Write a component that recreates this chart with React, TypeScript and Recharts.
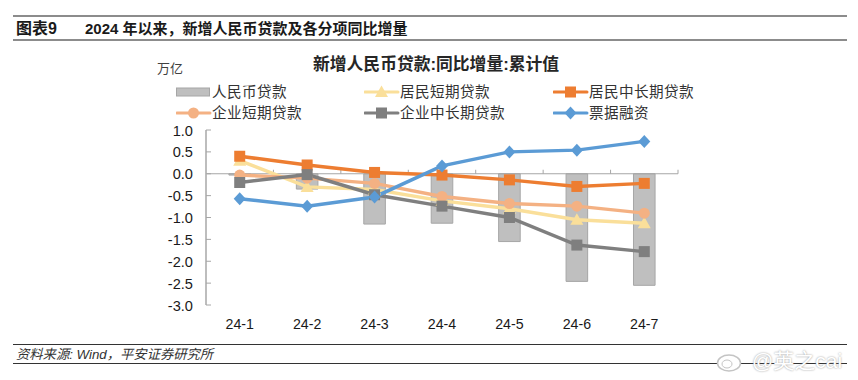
import { Bar, ComposedChart, Legend, Line, ReferenceLine, XAxis, YAxis } from 'recharts'

const months = ['24-1', '24-2', '24-3', '24-4', '24-5', '24-6', '24-7']
const totalLoans = [-0.03, -0.35, -1.15, -1.13, -1.55, -2.46, -2.55]
const householdShort = [0.3, -0.3, -0.36, -0.62, -0.8, -1.05, -1.13]
const householdLong = [0.4, 0.2, 0.03, -0.03, -0.14, -0.29, -0.22]
const corporateShort = [-0.03, -0.1, -0.22, -0.52, -0.68, -0.74, -0.9]
const corporateLong = [-0.2, -0.02, -0.48, -0.74, -1.0, -1.63, -1.78]
const billFinancing = [-0.57, -0.74, -0.53, 0.18, 0.5, 0.54, 0.74]
const yTicks = [1, 0.5, 0, -0.5, -1, -1.5, -2, -2.5, -3]

const rows = months.map((month, i) => ({
  month,
  totalLoans: totalLoans[i],
  householdShort: householdShort[i],
  householdLong: householdLong[i],
  corporateShort: corporateShort[i],
  corporateLong: corporateLong[i],
  billFinancing: billFinancing[i],
}))

const FONT = '"Liberation Sans", "Noto Sans CJK SC", sans-serif'
const TEXT = '#1a1a1a'

function Marker({ kind, cx, cy, fill }: { kind: string; cx: number; cy: number; fill: string }) {
  if (kind === 'square') return <rect x={cx - 5.5} y={cy - 5.5} width={11} height={11} fill={fill} />
  if (kind === 'circle') return <circle cx={cx} cy={cy} r={5.5} fill={fill} />
  if (kind === 'diamond') return <path d={`M${cx} ${cy - 6.5}L${cx + 6} ${cy}L${cx} ${cy + 6.5}L${cx - 6} ${cy}Z`} fill={fill} />
  return <path d={`M${cx} ${cy - 6.5}L${cx + 6.5} ${cy + 5}L${cx - 6.5} ${cy + 5}Z`} fill={fill} />
}

const series = [
  { key: 'householdShort', name: '居民短期贷款', color: '#fadf9a', kind: 'triangle' },
  { key: 'householdLong', name: '居民中长期贷款', color: '#ed7d31', kind: 'square' },
  { key: 'corporateShort', name: '企业短期贷款', color: '#f4b183', kind: 'circle' },
  { key: 'corporateLong', name: '企业中长期贷款', color: '#7f7f7f', kind: 'square' },
  { key: 'billFinancing', name: '票据融资', color: '#5b9bd5', kind: 'diamond' },
]

const legendSlots = [
  { x: 176, y: 92 },
  { x: 364, y: 92 },
  { x: 553, y: 92 },
  { x: 176, y: 113 },
  { x: 364, y: 113 },
  { x: 553, y: 113 },
]

function renderLegend({ payload }: any) {
  return (
    <div style={{ position: 'relative', width: 0, height: 0 }}>
      {(payload ?? []).map((item: any, i: number) => {
        const slot = legendSlots[i]
        const s = series.find((d) => d.name === item.value)
        return (
          <div key={item.value} style={{ position: 'absolute', left: slot.x, top: slot.y - 12, height: 24, whiteSpace: 'nowrap' }}>
            <svg width={36} height={24} style={{ position: 'absolute', left: 0, top: 0 }}>
              {s ? (
                <g>
                  <line x1={1} x2={34} y1={12} y2={12} stroke={s.color} strokeWidth={3} strokeLinecap="round" />
                  <Marker kind={s.kind} cx={17.5} cy={12} fill={s.color} />
                </g>
              ) : (
                <rect x={0.5} y={8} width={33} height={8} fill="#bfbfbf" stroke="#a6a6a6" />
              )}
            </svg>
            <span style={{ position: 'absolute', left: 36, top: 0, lineHeight: '24px', fontSize: 14.6, letterSpacing: 0.4, color: '#333' }}>
              {item.value}
            </span>
          </div>
        )
      })}
    </div>
  )
}

// tick marks sit inside the plot, to the right of the axis line
function YTick({ x, y, payload }: any) {
  return (
    <g>
      <line x1={x + 8} x2={x + 13} y1={y} y2={y} stroke="#a6a6a6" />
      <text x={x - 5} y={y + 5.5} textAnchor="end" fontSize={14.6} fill={TEXT} fontFamily={FONT}>
        {payload.value.toFixed(1)}
      </text>
    </g>
  )
}

// zero line doubles as the category axis, with ticks between the months pointing up
function ZeroAxis({ x1, x2, y1 }: any) {
  const step = (x2 - x1) / months.length
  return (
    <g>
      <line x1={x1} x2={x2} y1={y1} y2={y1} stroke="#a6a6a6" />
      {[...months, ''].map((_m, i) => (
        <line key={i} x1={x1 + step * i} x2={x1 + step * i} y1={y1 - 4} y2={y1} stroke="#a6a6a6" />
      ))}
    </g>
  )
}

const rule = (top: number, color: string, height = 1) => (
  <div style={{ position: 'absolute', left: 13, width: 834, top, height, background: color }} />
)

const label = (left: number, top: number, size: number, text: string, extra = {}) => (
  <div style={{ position: 'absolute', left, top, fontSize: size, lineHeight: `${size + 4}px`, whiteSpace: 'nowrap', color: TEXT, ...extra }}>
    {text}
  </div>
)

export default function App() {
  return (
    <div style={{ position: 'absolute', left: 0, top: 0, width: 858, height: 380, background: '#fff', fontFamily: FONT, overflow: 'hidden' }}>
      {rule(15, '#8c8c8c', 2)}
      {rule(39, '#8c8c8c', 2)}
      {rule(344, '#333')}
      {rule(363, '#333')}
      {label(16, 19, 16, '图表9', { fontWeight: 700 })}
      {label(85, 19, 15, '2024 年以来，新增人民币贷款及各分项同比增量', { fontWeight: 700 })}
      {label(313, 55, 16.8, '新增人民币贷款:同比增量:累计值', { fontWeight: 700, color: '#262626' })}
      {label(157, 60, 13, '万亿', { color: '#404040' })}
      {label(16, 346, 13.3, '资料来源: Wind，平安证券研究所', { fontStyle: 'italic', color: '#333' })}
      <div style={{ position: 'absolute', left: 0, top: 0 }}>
        <ComposedChart width={858} height={380} data={rows} margin={{ top: 130, right: 180, bottom: 40, left: 150 }} barCategoryGap="66%">
          <XAxis
            dataKey="month"
            interval={0}
            axisLine={false}
            tickLine={false}
            height={35}
            tickMargin={8}
            tick={{ fontSize: 14.2, fill: TEXT, fontFamily: FONT }}
          />
          <YAxis
            width={56}
            domain={[-3, 1]}
            ticks={yTicks}
            interval={0}
            axisLine={{ stroke: '#bdbdbd', strokeWidth: 2 }}
            tickLine={false}
            tick={<YTick />}
          />
          <Legend content={renderLegend} itemSorter={null} wrapperStyle={{ position: 'absolute', left: 0, top: 0, width: 0, height: 0 }} />
          <Bar dataKey="totalLoans" name="人民币贷款" fill="#bfbfbf" stroke="#a6a6a6" isAnimationActive={false} />
          <ReferenceLine y={0} shape={<ZeroAxis />} />
          {series.map((s) => (
            <Line
              key={s.key}
              dataKey={s.key}
              name={s.name}
              stroke={s.color}
              strokeWidth={3.5}
              isAnimationActive={false}
              dot={(p: any) => <Marker key={p.index} kind={s.kind} cx={p.cx} cy={p.cy} fill={s.color} />}
              activeDot={false}
            />
          ))}
        </ComposedChart>
      </div>
      <svg width={30} height={28} style={{ position: 'absolute', left: 716, top: 346 }}>
        <ellipse cx={13} cy={17} rx={11.5} ry={8} fill="#fff" stroke="#c4c4c4" strokeWidth={1.5} />
        <ellipse cx={11} cy={18} rx={5} ry={4} fill="#fff" stroke="#c4c4c4" />
      </svg>
      <div style={{ position: 'absolute', left: 752, top: 348, fontSize: 21, lineHeight: '26px', color: '#fff', whiteSpace: 'nowrap', textShadow: '0 0 2px #8f8f8f' }}>
        @英之cai
      </div>
    </div>
  )
}
